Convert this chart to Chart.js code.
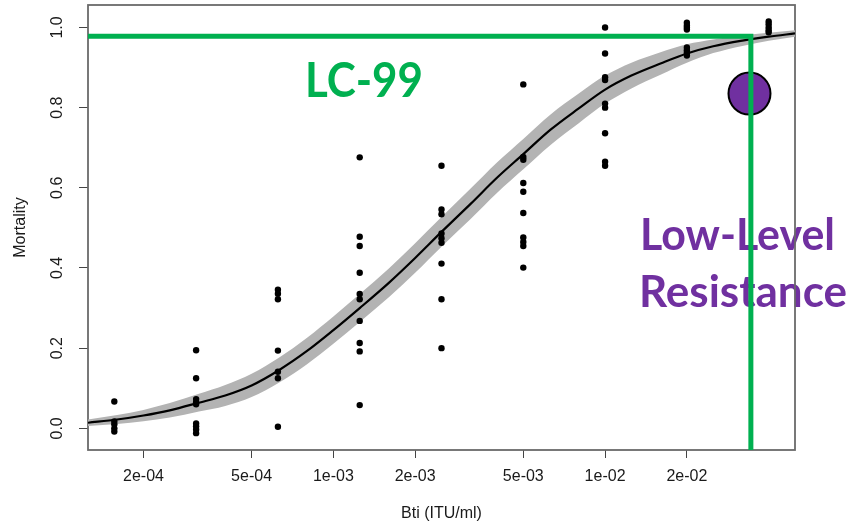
<!DOCTYPE html>
<html>
<head>
<meta charset="utf-8">
<title>Mortality vs Bti dose</title>
<script src="https://cdn.jsdelivr.net/npm/chart.js@4.4.1/dist/chart.umd.min.js"></script>
<style>
  html, body { margin: 0; padding: 0; background: #fff; }
</style>
</head>
<body>
<canvas id="chart1" width="851" height="531"></canvas>
<script>
// Dosis probadas (ITU/ml)
const doses = [1.5625e-4, 3.125e-4, 6.25e-4, 1.25e-3, 2.5e-3, 5e-3, 1e-2, 2e-2, 4e-2];

const mortalityByDose = [
    [0.067, 0.017, 0.010, 0.000, -0.008],
    [0.195, 0.125, 0.073, 0.065, 0.060, 0.012, 0.005, -0.003, -0.012],
    [0.346, 0.336, 0.322, 0.194, 0.141, 0.125, 0.004],
    [0.676, 0.478, 0.455, 0.388, 0.335, 0.322, 0.268, 0.213, 0.192, 0.058],
    [0.655, 0.546, 0.534, 0.486, 0.474, 0.463, 0.411, 0.322, 0.200],
    [0.858, 0.677, 0.670, 0.612, 0.590, 0.537, 0.476, 0.465, 0.455, 0.401],
    [1.000, 0.935, 0.876, 0.869, 0.810, 0.800, 0.736, 0.665, 0.655],
    [1.012, 1.005, 1.000, 0.995, 0.950, 0.943, 0.937, 0.930],
    [1.015, 1.008, 1.000, 0.993, 0.988]
];

// Curva ajustada y banda de confianza
const curveDoses = [1.25e-4, 1.6e-4, 2e-4, 2.5e-4, 3.2e-4, 4e-4, 5e-4, 6.3e-4, 8e-4, 1e-3,
    1.25e-3, 1.6e-3, 2e-3, 2.5e-3, 3.2e-3, 4e-3, 5e-3, 6.3e-3, 8e-3, 1e-2,
    1.25e-2, 1.6e-2, 2e-2, 2.5e-2, 3.2e-2, 4e-2, 5e-2];
const curveFit = [0.014, 0.022, 0.032, 0.045, 0.064, 0.082, 0.107, 0.145, 0.193, 0.245,
    0.300, 0.363, 0.425, 0.490, 0.560, 0.625, 0.684, 0.745, 0.798, 0.845,
    0.880, 0.910, 0.935, 0.953, 0.967, 0.977, 0.985];
const curveUpper = [0.022, 0.033, 0.046, 0.063, 0.086, 0.108, 0.136, 0.176, 0.226, 0.279,
    0.335, 0.399, 0.462, 0.527, 0.598, 0.663, 0.722, 0.783, 0.835, 0.880,
    0.912, 0.938, 0.958, 0.970, 0.980, 0.987, 0.993];
const curveLower = [0.006, 0.011, 0.018, 0.027, 0.042, 0.056, 0.078, 0.114, 0.160, 0.211,
    0.265, 0.327, 0.388, 0.453, 0.522, 0.587, 0.646, 0.707, 0.761, 0.810,
    0.848, 0.882, 0.912, 0.936, 0.954, 0.967, 0.977];

// Ejes
const xMin = 1.25e-4, xMax = 5e-2;
const yMin = -0.054, yMax = 1.056;
const xTickValues = [2e-4, 5e-4, 1e-3, 2e-3, 5e-3, 1e-2, 2e-2];
const xTickLabels = ['2e-04', '5e-04', '1e-03', '2e-03', '5e-03', '1e-02', '2e-02'];
const yTickValues = [0, 0.2, 0.4, 0.6, 0.8, 1.0];
const yTickLabels = ['0.0', '0.2', '0.4', '0.6', '0.8', '1.0'];

// Anotaciones
const lc99Dose = 0.0344;
const lc99Mortality = 0.978;
const resistantDose = 0.034;
const resistantMortality = 0.835;

const GREEN = '#00B050';
const PURPLE = '#7030A0';

const toXY = (xs, ys) => xs.map((x, i) => ({ x: x, y: ys[i] }));

const observedPoints = [];
doses.forEach((d, i) => {
    mortalityByDose[i].forEach(m => observedPoints.push({ x: d, y: m }));
});

// Texto escalado al ancho deseado
function drawFitted(ctx, text, left, baseline, capHeight, width, color) {
    const size = capHeight / 0.72;
    ctx.save();
    ctx.font = 'bold ' + size + 'px Lato';
    ctx.fillStyle = color;
    ctx.textBaseline = 'alphabetic';
    ctx.textAlign = 'left';
    const w = ctx.measureText(text).width;
    ctx.translate(left, baseline);
    ctx.scale(width / w, 1);
    ctx.fillText(text, 0, 0);
    ctx.restore();
}

const decorations = {
    id: 'decorations',
    beforeDatasetsDraw(chart) {
        const ctx = chart.ctx;
        const a = chart.chartArea;

        drawFitted(ctx, 'LC-99', 305, 97, 34, 118, GREEN);
        drawFitted(ctx, 'Low-Level', 640, 250, 31.7, 195, PURPLE);
        drawFitted(ctx, 'Resistance', 639, 306.7, 31.7, 208, PURPLE);

        // Caja del gráfico
        ctx.save();
        ctx.strokeStyle = '#6a6a6a';
        ctx.lineWidth = 1.8;
        ctx.strokeRect(a.left, a.top, a.right - a.left, a.bottom - a.top);
        ctx.restore();

        // Etiquetas de los ejes
        ctx.save();
        ctx.fillStyle = '#1a1a1a';
        ctx.font = '16px "Liberation Sans", Arial, sans-serif';
        ctx.textAlign = 'center';
        ctx.textBaseline = 'middle';
        const xs = chart.scales.x;
        xs.ticks.forEach((t, i) => {
            ctx.fillText(xTickLabels[i], xs.getPixelForValue(t.value), 477);
        });
        ctx.fillText('Bti (ITU/ml)', (a.left + a.right) / 2, 514);

        const ys = chart.scales.y;
        ys.ticks.forEach((t, i) => {
            ctx.save();
            ctx.translate(57.5, ys.getPixelForValue(t.value));
            ctx.rotate(-Math.PI / 2);
            ctx.fillText(yTickLabels[i], 0, 0);
            ctx.restore();
        });
        ctx.translate(21, (a.top + a.bottom) / 2);
        ctx.rotate(-Math.PI / 2);
        ctx.fillText('Mortality', 0, 0);
        ctx.restore();
    }
};

const ctx1 = document.getElementById('chart1').getContext('2d');

let chart1 = new Chart(ctx1, {
    type: 'scatter',
    data: {
        datasets: [
            {
                label: 'lower',
                data: toXY(curveDoses, curveLower),
                showLine: true,
                borderWidth: 0,
                borderColor: 'rgba(0,0,0,0)',
                pointRadius: 0,
                cubicInterpolationMode: 'monotone',
                order: 6
            },
            {
                label: 'upper',
                data: toXY(curveDoses, curveUpper),
                showLine: true,
                borderWidth: 0,
                borderColor: 'rgba(0,0,0,0)',
                backgroundColor: '#b3b3b3',
                fill: 0,
                pointRadius: 0,
                cubicInterpolationMode: 'monotone',
                order: 5
            },
            {
                label: 'fit',
                data: toXY(curveDoses, curveFit),
                showLine: true,
                borderColor: '#000',
                borderWidth: 2.2,
                pointRadius: 0,
                cubicInterpolationMode: 'monotone',
                order: 3
            },
            {
                label: 'observed',
                data: observedPoints,
                backgroundColor: '#000',
                borderColor: '#000',
                borderWidth: 0,
                pointRadius: 3.2,
                order: 2
            },
            {
                label: 'resistant',
                data: [{ x: resistantDose, y: resistantMortality }],
                backgroundColor: PURPLE,
                borderColor: '#000',
                borderWidth: 2,
                pointRadius: 21,
                clip: false,
                order: 1
            },
            {
                label: 'LC-99',
                data: [
                    { x: xMin, y: lc99Mortality },
                    { x: lc99Dose, y: lc99Mortality },
                    { x: lc99Dose, y: yMin }
                ],
                showLine: true,
                borderColor: GREEN,
                borderWidth: 5,
                borderJoinStyle: 'miter',
                borderCapStyle: 'butt',
                pointRadius: 0,
                clip: false,
                order: 0
            }
        ]
    },
    options: {
        responsive: false,
        animation: false,
        devicePixelRatio: 1,
        layout: { autoPadding: false, padding: { top: 5, right: 56, left: 0, bottom: 0 } },
        plugins: {
            legend: { display: false },
            tooltip: { enabled: false }
        },
        scales: {
            x: {
                type: 'logarithmic',
                min: xMin,
                max: xMax,
                afterBuildTicks: s => { s.ticks = xTickValues.map(v => ({ value: v })); },
                afterFit: s => { s.height = 81; },
                ticks: { display: false },
                border: { display: false },
                grid: { drawOnChartArea: false, drawTicks: true, tickLength: 8, color: '#444', lineWidth: 1 }
            },
            y: {
                type: 'linear',
                min: yMin,
                max: yMax,
                afterBuildTicks: s => { s.ticks = yTickValues.map(v => ({ value: v })); },
                afterFit: s => { s.width = 88; },
                ticks: { display: false },
                border: { display: false },
                grid: { drawOnChartArea: false, drawTicks: true, tickLength: 9, color: '#444', lineWidth: 1 }
            }
        }
    },
    plugins: [decorations]
});
</script>
</body>
</html>
